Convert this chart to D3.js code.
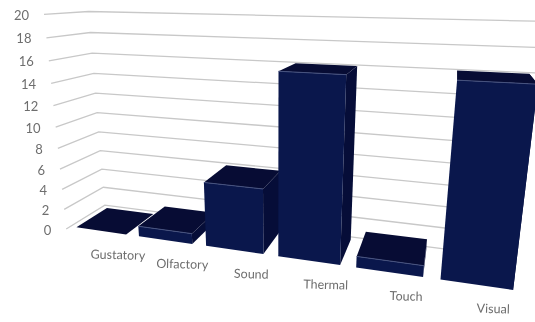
<!DOCTYPE html>
<html><head><meta charset="utf-8"><script src="https://cdn.jsdelivr.net/npm/d3@7"></script>
<style>html,body{margin:0;background:#fff;overflow:hidden}svg{display:block;filter:blur(.45px)}</style></head><body><svg id="c" width="535" height="322"></svg>
<script>
const categories=["Gustatory","Olfactory","Sound","Thermal","Touch","Visual"];
const values=[0,1,6,16,1,16];
const ticks=[0,2,4,6,8,10,12,14,16,18,20];
// Perspective camera (category position, value, depth) -> screen
const cam=[58.21710,-1.320720,50.09891,66.21302,0.9277803,-10.79665,-1.396502,229.0122,-0.03436151,-0.004785947,0.1096580];
const proj=(X,V,Z)=>{const w=cam[8]*X+cam[9]*V+cam[10]*Z+1;return [(cam[0]*X+cam[1]*V+cam[2]*Z+cam[3])/w,(cam[4]*X+cam[5]*V+cam[6]*Z+cam[7])/w];};
const xS=d3.scaleBand().domain(categories).range([0,6]).paddingInner(.2).paddingOuter(.1);
const yS=d3.scaleLinear().domain([0,20]).range([0,20]);
const zS=d3.scaleLinear().domain([0,1]).range([.1,.9]);
const svg=d3.select("#c"),g=svg.append("g"),line=d3.line();
const FONT="Lato",GREY="#6e6e6e";
ticks.forEach(t=>{
  const v=yS(t);
  g.append("path").attr("d",line([proj(0,v,0),proj(0,v,1),proj(6,v,1)])).attr("fill","none").attr("stroke","#c8c8c8").attr("stroke-width",1.3);
  const p=proj(0,v,0);
  g.append("text").attr("x",p[0]-15).attr("y",p[1]+1).attr("text-anchor","end").attr("dy",".35em")
   .attr("font-family",FONT).attr("font-size",13).attr("fill",GREY).text(t);
});
categories.forEach((c,i)=>{
  const a=xS(c),b=a+xS.bandwidth(),v=yS(values[i]),z0=zS(0),z1=zS(1);
  const poly=(pts,col)=>g.append("polygon").attr("points",pts.map(q=>proj(...q).join(",")).join(" ")).attr("fill",col);
  poly([[b,0,z0],[b,0,z1],[b,v,z1],[b,v,z0]],"#060d38");
  poly([[a,0,z0],[b,0,z0],[b,v,z0],[a,v,z0]],"#0a174c");
  poly([[a,v,z0],[b,v,z0],[b,v,z1],[a,v,z1]],"#070c34");
  if(v>0)g.append("path").attr("d",line([proj(a,v,z0),proj(b,v,z0)])).attr("stroke","#46527f").attr("stroke-width",1);
  const m=proj((a+b)/2,0,z0),lx=m[0]+17,ly=m[1]+24;
  g.append("text").attr("transform",`translate(${lx},${ly}) rotate(1.5)`).attr("text-anchor","middle").attr("dy",".35em")
   .attr("font-family",FONT).attr("font-size",12.5).attr("fill",GREY).text(c);
});
</script></body></html>
